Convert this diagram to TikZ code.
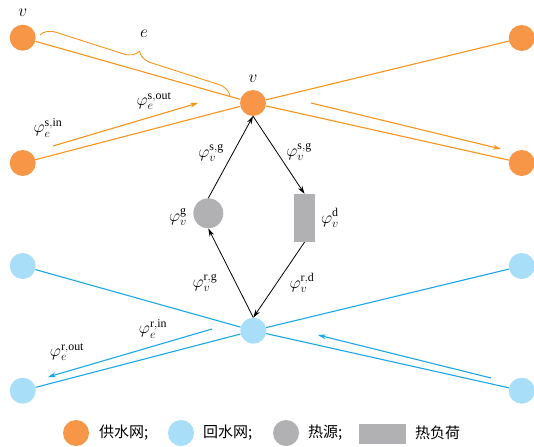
\documentclass[tikz,border=0pt]{standalone}
\usepackage{fontspec}
\setmainfont{Liberation Serif}
\newfontfamily\cjk{Noto Sans CJK SC}
\usetikzlibrary{decorations.pathreplacing,arrows.meta}
\definecolor{onode}{HTML}{F79646}
\definecolor{oline}{HTML}{F7941D}
\definecolor{bnode}{HTML}{A8DEF8}
\definecolor{bline}{HTML}{1AA7E6}
\definecolor{gfill}{HTML}{B1B1B4}
\tikzset{
  sn/.style={circle,fill=onode,minimum size=26pt,inner sep=0pt},
  rn/.style={circle,fill=bnode,minimum size=26pt,inner sep=0pt},
  gn/.style={circle,fill=gfill,minimum size=30pt,inner sep=0pt},
  dn/.style={rectangle,fill=gfill,minimum width=21pt,minimum height=48pt,inner sep=0pt},
  sedge/.style={oline,line width=1.1pt},
  redge/.style={bline,line width=1.1pt},
  sarrow/.style={oline,line width=1.1pt,-{Stealth[length=8pt,width=5pt]}},
  rarrow/.style={bline,line width=1.1pt,-{Stealth[length=8pt,width=5pt]}},
  barrow/.style={black,line width=0.8pt,-{Stealth[length=8pt,width=5pt]}},
  lab/.style={inner sep=0pt},
  legtext/.style={anchor=west,inner sep=0pt,font=\cjk\fontsize{15}{18}\selectfont},
}
\begin{document}
\begin{tikzpicture}[x=1pt,y=-1pt,font=\fontsize{17}{20}\selectfont]
\useasboundingbox (0,0) rectangle (534,446);
% supply nodes
\node[sn] (s1) at (22.7,37.7) {};
\node[sn] (s2) at (22.7,163) {};
\node[sn] (sv) at (253,103) {};
\node[sn] (s3) at (521.7,38) {};
\node[sn] (s4) at (521.7,163) {};
% return nodes
\node[rn] (r1) at (22.7,266) {};
\node[rn] (r2) at (22.7,390.7) {};
\node[rn] (rv) at (253.3,330.7) {};
\node[rn] (r3) at (521.7,266) {};
\node[rn] (r4) at (521.7,390.7) {};
% source and load
\node[gn] (g) at (208.3,213.3) {};
\node[dn] (d) at (304.5,218) {};
% edges
\draw[sedge] (s1) -- (sv);
\draw[sedge] (s2) -- (sv);
\draw[sedge] (sv) -- (s3);
\draw[sedge] (sv) -- (s4);
\draw[redge] (r1) -- (rv);
\draw[redge] (r2) -- (rv);
\draw[redge] (rv) -- (r3);
\draw[redge] (rv) -- (r4);
% flow arrows
\coordinate (a1) at (53,146);
\coordinate (a2) at (198,103);
\draw[sarrow] (a1) -- (a2);
\coordinate (a3) at (311,103);
\coordinate (a4) at (501,149);
\draw[sarrow] (a3) -- (a4);
\coordinate (b1) at (212,329);
\coordinate (b2) at (48,377);
\draw[rarrow] (b1) -- (b2);
\coordinate (b3) at (491,378);
\coordinate (b4) at (318,335);
\draw[rarrow] (b3) -- (b4);
% black arrows
\draw[barrow] (g.north) -- (sv.south);
\draw[barrow] (sv.south) -- (d.north);
\draw[barrow] (d.south) -- (rv.north);
\draw[barrow] (rv.north) -- (g.south);
% brace
\coordinate (e1) at (40,35);
\coordinate (e2) at (230,96);
\draw[oline,line width=0.9pt,decorate,decoration={brace,amplitude=15pt}] (e1) -- (e2);
% labels
\node[lab] (lv1) at (22.7,13) {$v$};
\node[lab] (lv) at (253,79) {$v$};
\node[lab] (le) at (144,34) {$e$};
\node[lab] (lsin) at (48,128) {$\varphi_e^{\mathrm{s,in}}$};
\node[lab] (lsout) at (154,101) {$\varphi_e^{\mathrm{s,out}}$};
\node[lab] (lsg1) at (211,153) {$\varphi_v^{\mathrm{s,g}}$};
\node[lab] (lsg2) at (299,152) {$\varphi_v^{\mathrm{s,g}}$};
\node[lab] (lg) at (178,217) {$\varphi_v^{\mathrm{g}}$};
\node[lab] (ld) at (330,218) {$\varphi_v^{\mathrm{d}}$};
\node[lab] (lrg) at (205,283) {$\varphi_v^{\mathrm{r,g}}$};
\node[lab] (lrd) at (302,283) {$\varphi_v^{\mathrm{r,d}}$};
\node[lab] (lrin) at (153,329) {$\varphi_e^{\mathrm{r,in}}$};
\node[lab] (lrout) at (67,352) {$\varphi_e^{\mathrm{r,out}}$};
% legend
\node[sn] (k1) at (76,433) {};
\node[legtext] (t1) at (99,433) {供水网;};
\node[rn] (k2) at (181,433) {};
\node[legtext] (t2) at (203,433) {回水网;};
\node[gn,minimum size=26pt] (k3) at (286,433) {};
\node[legtext] (t3) at (308,433) {热源;};
\node[dn,minimum width=47pt,minimum height=20pt] (k4) at (382.5,434) {};
\node[legtext] (t4) at (415,433) {热负荷};
\end{tikzpicture}
\end{document}
